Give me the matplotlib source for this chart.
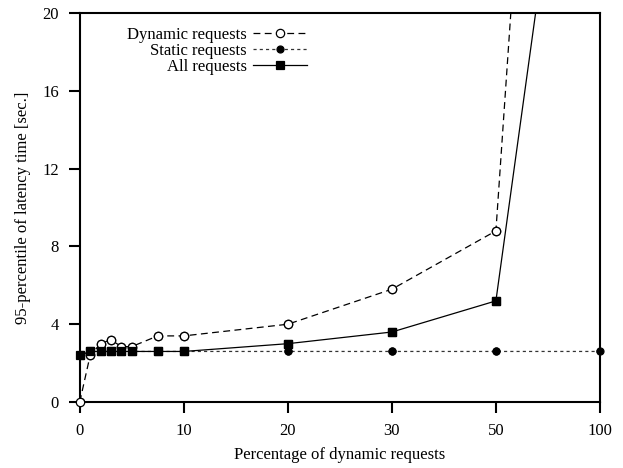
import numpy as np
import matplotlib
matplotlib.use('Agg')
from matplotlib import pyplot as plt

# percentage of dynamic requests
dyn_x = [0, 1, 2, 3, 4, 5, 7.5, 10, 20, 30, 50, 100]
dynamic_latency = [0, 2.4, 3.0, 3.2, 2.85, 2.85, 3.4, 3.4, 4.0, 5.8, 8.8, 87]

static_x = [0, 1, 2, 3, 4, 5, 7.5, 10, 20, 30, 50, 100]
static_latency = [2.4, 2.6, 2.6, 2.6, 2.6, 2.6, 2.6, 2.6, 2.6, 2.6, 2.6, 2.6]

all_x = [0, 1, 2, 3, 4, 5, 7.5, 10, 20, 30, 50, 100]
all_latency = [2.4, 2.6, 2.6, 2.6, 2.6, 2.6, 2.6, 2.6, 3.0, 3.6, 5.2, 44]

x_ticks = [0, 10, 20, 30, 50, 100]
y_ticks = [0, 4, 8, 12, 16, 20]

plt.rcParams['font.family'] = ['Liberation Serif', 'DejaVu Serif']
plt.rcParams['font.size'] = 12

tick_pos = np.arange(len(x_ticks))


def forward(v):
    return np.interp(v, x_ticks, tick_pos)


def inverse(v):
    return np.interp(v, tick_pos, x_ticks)


figure, axes = plt.subplots(figsize=(6.23, 4.68), dpi=100)
figure.subplots_adjust(left=0.128, right=0.963, bottom=0.141, top=0.972)
axes.set_xscale('function', functions=(forward, inverse))
axes.set_xlim(0, 100)
axes.set_ylim(0, 20)

series = [
    (dyn_x, dynamic_latency, 'Dynamic requests', dict(color='black', linestyle=(0, (5.5, 3.5)), marker='o',
                                                      markerfacecolor='white', markersize=6)),
    (static_x, static_latency, 'Static requests', dict(color='#333333', linestyle=(0, (2.5, 2.5)), marker='o',
                                                       markerfacecolor='black', markeredgecolor='black',
                                                       markersize=5)),
    (all_x, all_latency, 'All requests', dict(color='black', linestyle='-', marker='s',
                                              markerfacecolor='black', markersize=5.5)),
]

for xs, ys, label, style in series:
    axes.plot(xs, ys, linewidth=0.9, label=label, markeredgewidth=0.9, **style)
    # markers on the frame should not be cut in half
    ys_in = np.where(np.array(ys) <= 20, ys, np.nan)
    marker_style = {k: v for k, v in style.items() if k != 'linestyle'}
    axes.plot(xs, ys_in, linestyle='none', markeredgewidth=0.9, clip_on=False, zorder=3, **marker_style)

axes.set_xticks(x_ticks)
axes.set_xticklabels([str(t) for t in x_ticks])
axes.set_yticks(y_ticks)
axes.minorticks_off()
axes.tick_params(direction='out', length=8, width=1.5, labelsize=12)
axes.tick_params(axis='x', pad=7)
axes.tick_params(axis='y', pad=7)
for spine in axes.spines.values():
    spine.set_linewidth(1.5)

axes.set_xlabel('Percentage of dynamic requests', fontsize=12, labelpad=6)
axes.set_ylabel('95-percentile of latency time [sec.]', fontsize=12, labelpad=8)

axes.legend(loc='upper right', bbox_to_anchor=(0.452, 0.985), frameon=False, markerfirst=False,
            handlelength=3.2, handletextpad=0.4, labelspacing=0.0, borderpad=0, fontsize=12)

figure.savefig('out.png', dpi=100)
